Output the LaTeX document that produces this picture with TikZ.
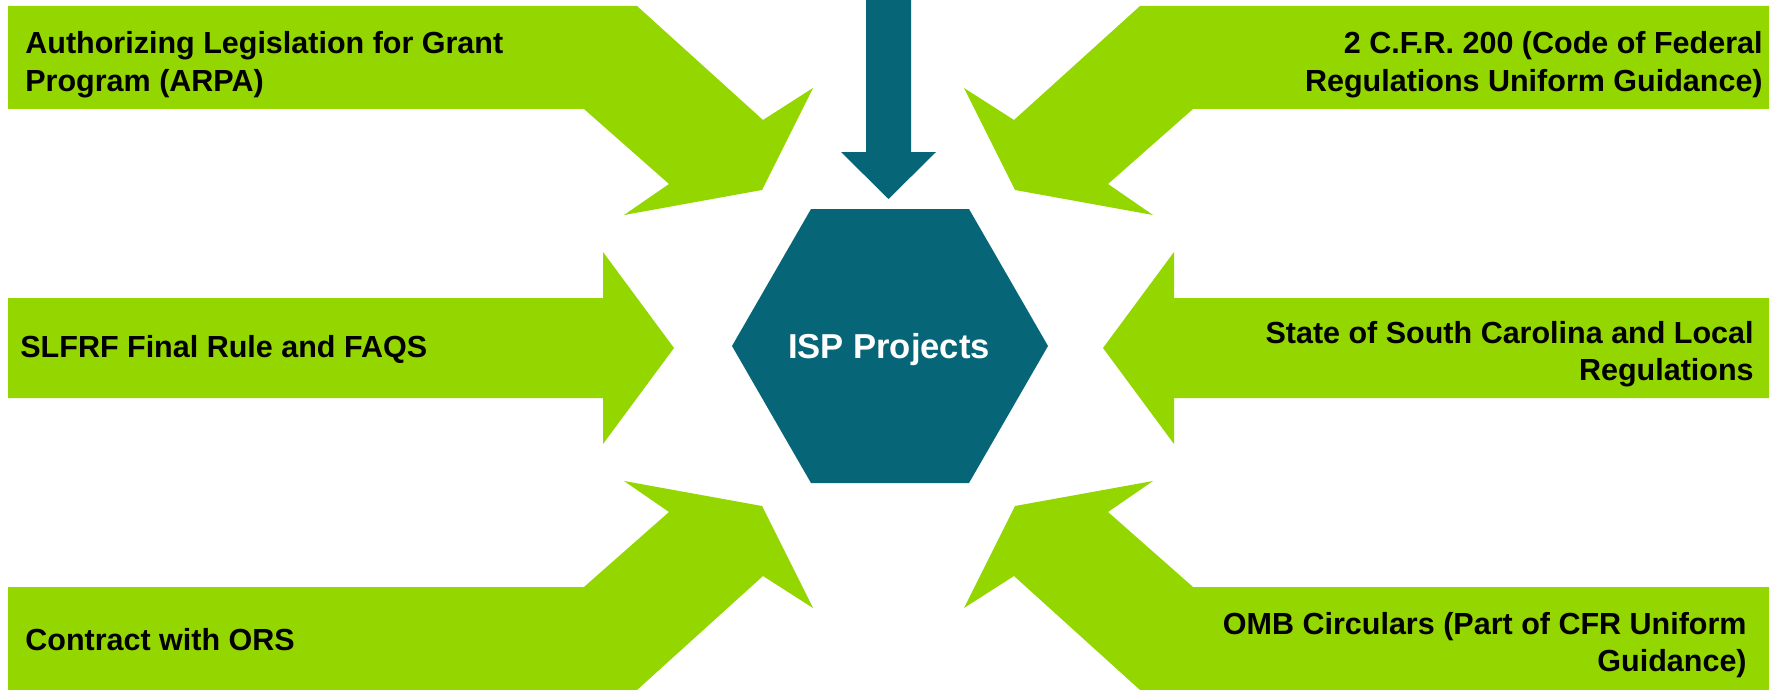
\documentclass[tikz,border=0pt]{standalone}
\usepackage{fontspec}
\setmainfont{Liberation Sans}
\definecolor{grn}{RGB}{148,214,0}
\definecolor{tealdk}{RGB}{6,102,120}
\begin{document}
\begin{tikzpicture}[x=0.5pt,y=-0.5pt,
  grnshape/.style={fill=grn},
  tealshape/.style={fill=tealdk},
  lbl/.style={font=\bfseries\fontsize{15.25}{18.5}\selectfont, inner sep=0pt, text=black},
  lbltop/.style={lbl, font=\bfseries\fontsize{15.25}{19.5}\selectfont},
  centerlbl/.style={font=\bfseries\fontsize{17.3}{20}\selectfont, inner sep=0pt, text=white}]
\useasboundingbox (0,0) rectangle (1777,690);
\fill[white] (0,0) rectangle (1777,690);
% diagonal arrows
\foreach \sx/\sy in {1/1,-1/1,1/-1,-1/-1}{
  \begin{scope}[shift={(888.5,348)},xscale=\sx,yscale=\sy,shift={(-888.5,-348)}]
    \fill[grnshape] (8,6) -- (637,6) -- (763,120) -- (813,88) -- (762,190)
      -- (624,215) -- (669,184) -- (584,109) -- (8,109) -- cycle;
  \end{scope}
}
% horizontal arrows
\foreach \sx in {1,-1}{
  \begin{scope}[shift={(888.5,348)},xscale=\sx,shift={(-888.5,-348)}]
    \fill[grnshape] (8,298) -- (603,298) -- (603,252) -- (674,348)
      -- (603,444) -- (603,398) -- (8,398) -- cycle;
  \end{scope}
}
% hexagon
\fill[tealshape] (811,209) -- (969,209) -- (1048,346) -- (969,483)
  -- (811,483) -- (732,346) -- cycle;
% top arrow
\fill[tealshape] (866,-2) -- (911,-2) -- (911,152) -- (936,152)
  -- (888.5,199) -- (841,152) -- (866,152) -- cycle;
% labels (base anchor of a multi-line node is the last line's baseline)
\node[lbltop, anchor=base west, align=left] (t1) at (25,92)
  {Authorizing Legislation for Grant\\Program (ARPA)};
\node[lbltop, anchor=base east, align=right] (t2) at (1763,92)
  {2 C.F.R. 200 (Code of Federal\\Regulations Uniform Guidance)};
\node[lbl, anchor=base west] (t3) at (20,357) {SLFRF Final Rule and FAQS};
\node[lbl, anchor=base east, align=right] (t4) at (1754,380)
  {State of South Carolina and Local\\Regulations};
\node[lbl, anchor=base west] (t5) at (25,650) {Contract with ORS};
\node[lbl, anchor=base east, align=right] (t6) at (1747,671)
  {OMB Circulars (Part of CFR Uniform\\Guidance)};
\node[centerlbl, anchor=base] (isp) at (889,358) {ISP Projects};
\end{tikzpicture}
\end{document}
